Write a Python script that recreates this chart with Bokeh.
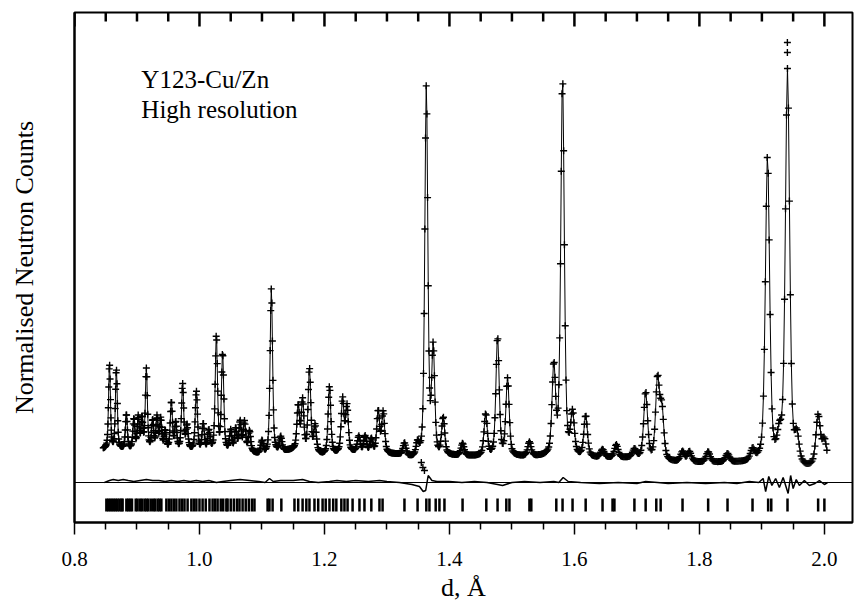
import numpy as np
from bokeh.plotting import figure
from bokeh.models import (Range1d, LinearAxis, Span, Label,
                          FixedTicker, ColumnDataSource, PrintfTickFormatter)
from bokeh.embed import file_html
from bokeh.resources import INLINE

# ---------------- data ----------------
# Bragg peaks: position d (Å), top level (normalised counts)
peak_d = [0.856, 0.867, 0.883, 0.895, 0.902, 0.908, 0.915, 0.925, 0.932, 0.938,
          0.945, 0.955, 0.962, 0.973, 0.980, 0.995, 1.006, 1.015, 1.027, 1.037,
          1.050, 1.058, 1.065, 1.072, 1.080, 1.100, 1.115, 1.130, 1.158, 1.165,
          1.176, 1.185, 1.208, 1.229, 1.236, 1.255, 1.265, 1.275, 1.286, 1.294,
          1.328, 1.349, 1.363, 1.374, 1.390, 1.421, 1.458, 1.477, 1.493, 1.528,
          1.567, 1.581, 1.597, 1.618, 1.645, 1.667, 1.696, 1.714, 1.733, 1.740,
          1.773, 1.784, 1.814, 1.845, 1.885, 1.909, 1.928, 1.941, 1.956, 1.990,
          2.000]
peak_top = [117, 112, 67, 62, 64, 62, 112, 60, 64, 62,
            50, 79, 58, 97, 55, 90, 57, 50, 145, 127,
            50, 52, 59, 59, 50, 40, 193, 44, 75, 80,
            112, 55, 95, 82, 75, 45, 45, 42, 70, 69,
            38, 35, 394, 129, 62, 38, 67, 144, 102, 39,
            112, 402, 65, 65, 32, 37, 32, 89, 100, 69,
            30, 30, 30, 28, 30, 324, 39, 410, 40, 65,
            40]

# background level under the pattern
bg_d = [0.846, 0.90, 1.00, 1.08, 1.10, 1.15, 1.20, 1.25, 1.32, 1.35,
        1.40, 1.55, 1.62, 1.70, 1.75, 1.90, 1.97, 2.005]
bg_y = [33, 33, 32, 30, 27, 32, 27, 30, 27, 22,
        26, 25, 24, 24, 20, 19, 13, 17]

# observed points that stand off the fitted curve
extra_obs_d = [1.9408, 1.9408, 1.3550, 1.3575, 1.3600]
extra_obs_y = [440, 430, 20, 15, 12]

# difference curve (obs - calc)
diff_d = [0.848, 0.856, 0.862, 0.870, 0.878, 0.886, 0.895, 0.905, 0.915, 0.925,
          0.935, 0.945, 0.955, 0.965, 0.975, 0.985, 0.995, 1.005, 1.015, 1.027,
          1.037, 1.050, 1.065, 1.080, 1.095, 1.105, 1.112, 1.118, 1.130, 1.150,
          1.165, 1.176, 1.190, 1.208, 1.220, 1.235, 1.250, 1.270, 1.288, 1.300,
          1.320, 1.340, 1.352, 1.358, 1.362, 1.366, 1.372, 1.380, 1.400, 1.420,
          1.440, 1.460, 1.477, 1.485, 1.500, 1.520, 1.545, 1.567, 1.575, 1.582,
          1.590, 1.610, 1.640, 1.670, 1.700, 1.714, 1.733, 1.750, 1.780, 1.810,
          1.840, 1.860, 1.880, 1.895, 1.902, 1.906, 1.911, 1.916, 1.922, 1.928,
          1.934, 1.938, 1.942, 1.946, 1.950, 1.955, 1.960, 1.968, 1.976, 1.985,
          1.992, 2.000, 2.005]
diff_v = [0, 2, 3, 2, 3, 2, 1, 2, 3, 2,
          2, 1, 2, 1, 2, 1, 2, 1, 2, 0,
          1, 2, 3, 2, 1, 0, 4, 1, 2, 2,
          3, 1, 0, 1, 2, 1, 2, 1, 2, 1,
          0, -2, -4, -9, -8, 7, 2, 1, 1, 0,
          1, 0, -2, -3, 0, 1, 0, 1, 0, 5,
          1, 0, -1, 0, -1, 1, 0, -1, 0, -1,
          0, -1, 1, 0, 4, -9, 6, -3, 4, -5,
          5, -3, -11, 7, -6, 3, -3, 2, -3, -1,
          2, -2, 0]

# reflection positions (tick marks)
refl_d = [0.851, 0.854, 0.857, 0.860, 0.863, 0.866, 0.869, 0.872, 0.875, 0.877,
          0.883, 0.886, 0.889, 0.892, 0.898, 0.901, 0.905, 0.908, 0.912,
          0.915, 0.918, 0.922, 0.926, 0.929, 0.933, 0.936, 0.939,
          0.947, 0.951, 0.955, 0.959, 0.963, 0.968, 0.972, 0.976, 0.981,
          0.987, 0.991, 0.995, 1.000, 1.005, 1.010, 1.016,
          1.021, 1.025, 1.029, 1.034, 1.038, 1.043, 1.045, 1.050, 1.055, 1.060, 1.064,
          1.069, 1.074, 1.079, 1.084, 1.088, 1.109, 1.112, 1.117, 1.131,
          1.152, 1.158, 1.165, 1.171, 1.176, 1.184, 1.190, 1.197, 1.202, 1.208,
          1.214, 1.219, 1.227, 1.232, 1.237, 1.245, 1.256, 1.264, 1.275, 1.288,
          1.293, 1.328, 1.349, 1.363, 1.368, 1.378, 1.384, 1.392, 1.421, 1.459,
          1.477, 1.491, 1.496, 1.528, 1.531, 1.571, 1.581, 1.597, 1.618, 1.645,
          1.661, 1.664, 1.696, 1.714, 1.731, 1.738, 1.773, 1.814, 1.845, 1.885,
          1.910, 1.915, 1.941, 1.990, 2.000]

x_ticks = [0.8, 1.0, 1.2, 1.4, 1.6, 1.8, 2.0]
x_minor = [0.85, 0.9, 0.95, 1.05, 1.1, 1.15, 1.25, 1.3, 1.35, 1.45, 1.5, 1.55,
           1.65, 1.7, 1.75, 1.85, 1.9, 1.95]

# ---------------- profile ----------------
d_start, d_end, step = 0.846, 2.005, 0.0008
d = np.exp(np.arange(np.log(d_start), np.log(d_end), step))
res = 0.0042      # fractional peak width (FWHM / d)
eta = 0.45        # Lorentzian fraction
bg = np.interp(d, bg_d, bg_y)
calc = bg.copy()
for pd_, pt in zip(peak_d, peak_top):
    f = res * pd_
    amp = pt - np.interp(pd_, bg_d, bg_y)
    u = 4 * (d - pd_) ** 2 / f ** 2
    calc += amp * (eta / (1 + u) + (1 - eta) * np.exp(-np.log(2) * u))

src = ColumnDataSource(dict(d=d, y=calc))

# ---------------- figure ----------------
FONT = "Liberation Serif"
Y_TOP = 470
p = figure(width=854, height=604, output_backend="svg", toolbar_location=None,
           x_range=Range1d(0.8, 2.045), y_range=Range1d(-40, Y_TOP),
           min_border_left=74, min_border_right=2, min_border_top=12, min_border_bottom=82,
           x_axis_type=None, y_axis_type=None)
p.background_fill_color = "white"
p.border_fill_color = "white"
p.outline_line_color = "black"
p.outline_line_width = 2
p.xgrid.visible = False
p.ygrid.visible = False

xb = LinearAxis(ticker=FixedTicker(ticks=x_ticks, minor_ticks=x_minor),
                formatter=PrintfTickFormatter(format="%.1f"))
xb.axis_label = "d, Å"
xb.axis_label_text_font = FONT
xb.axis_label_text_font_size = "26px"
xb.axis_label_text_font_style = "normal"
xb.axis_label_text_color = "black"
xb.axis_label_standoff = 4
xb.major_label_text_font = FONT
xb.major_label_text_font_size = "21px"
xb.major_label_text_color = "black"
xb.major_label_standoff = 17
xb.major_tick_in = 0
xb.major_tick_out = 12
xb.minor_tick_in = 0
xb.minor_tick_out = 7
xb.axis_line_width = 2
xb.major_tick_line_width = 1.5
xb.minor_tick_line_width = 1.5
p.add_layout(xb, "below")

yl = LinearAxis(ticker=FixedTicker(ticks=[], minor_ticks=[]))
yl.axis_label = "Normalised Neutron Counts"
yl.axis_label_text_font = FONT
yl.axis_label_text_font_size = "26px"
yl.axis_label_text_font_style = "normal"
yl.axis_label_text_color = "black"
yl.axis_label_standoff = 36
yl.major_label_standoff = 0
yl.major_tick_out = 0
yl.minor_tick_out = 0
yl.axis_line_width = 2
p.add_layout(yl, "left")

# top frame: inward ticks without labels
top_major = ColumnDataSource(dict(x=x_ticks, y0=[Y_TOP] * len(x_ticks),
                                  y1=[Y_TOP - 14] * len(x_ticks)))
top_minor = ColumnDataSource(dict(x=x_minor, y0=[Y_TOP] * len(x_minor),
                                  y1=[Y_TOP - 9] * len(x_minor)))
p.segment(x0="x", y0="y0", x1="x", y1="y1", source=top_major, line_width=2.5, line_color="black")
p.segment(x0="x", y0="y0", x1="x", y1="y1", source=top_minor, line_width=2.5, line_color="black")

# zero line for the difference curve
p.add_layout(Span(location=0, dimension="width", line_color="black", line_width=1.2))

# observed points and fitted curve
p.scatter("d", "y", source=src, marker="cross", size=7, line_width=1.4, color="black")
p.line("d", "y", source=src, line_width=1, color="black")
p.scatter(extra_obs_d, extra_obs_y, marker="cross", size=7, line_width=1.4, color="black")

# difference curve
p.line(diff_d, diff_v, line_width=1.5, color="black")

# reflection markers
p.segment(x0=refl_d, y0=[-16] * len(refl_d), x1=refl_d, y1=[-29] * len(refl_d),
          line_width=2.5, color="black")

# annotation
p.add_layout(Label(x=0.907, y=417, text="Y123-Cu/Zn", text_font=FONT,
                   text_font_size="25px", text_baseline="top", text_color="black"))
p.add_layout(Label(x=0.907, y=387, text="High resolution", text_font=FONT,
                   text_font_size="25px", text_baseline="top", text_color="black"))

open("out.html", "w").write(file_html(p, INLINE))
